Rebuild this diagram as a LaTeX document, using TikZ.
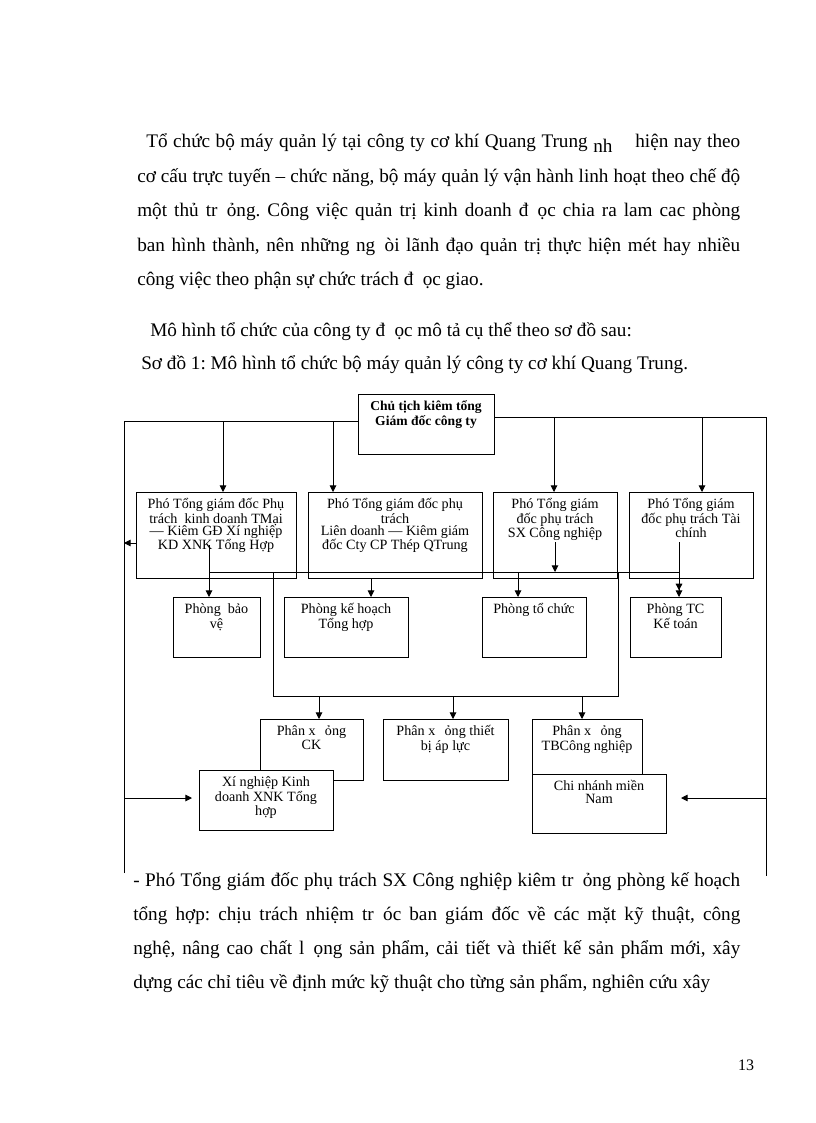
\documentclass[tikz,border=0pt]{standalone}
\usepackage{fontspec}
\setmainfont{Liberation Serif}
\usetikzlibrary{arrows.meta}
\frenchspacing
\newdimen\px \px=0.75pt
\newcommand\bxc[3]{\parbox[c][#2\px][t]{#1\px}{\centering\rule{0pt}{12.6pt}#3\par}}
\newcommand\gp{\hspace{7pt}}
\tikzset{
  bx/.style={draw, line width=0.7pt, inner sep=0pt, outer sep=0pt, anchor=north west, fill=white,
    font=\fontsize{10.6}{9.2}\selectfont},
  bxb/.style={bx, font=\bfseries\fontsize{10.2}{9.6}\selectfont},
  ln/.style={line width=0.7pt},
  arr/.style={ln, -{Triangle[length=5pt,width=5pt]}},
  arrdbl/.style={ln, -{Triangle[length=5pt,width=5pt] Triangle[length=5pt,width=5pt]}},
  txt/.style={anchor=base west, inner sep=0pt, font=\fontsize{14.4}{17}\selectfont},
}
\begin{document}
\begin{tikzpicture}[x=0.75pt,y=-0.75pt]
\fill[white] (0,0) rectangle (816,1123);
\useasboundingbox (0,0) rectangle (816,1123);

% ---------- text above ----------
\node[txt] (t1) at (146,148) {\makebox[445.5pt][s]{Tổ chức bộ máy quản lý tại công ty cơ khí Quang Trung \raisebox{-3.5pt}{nh}\hspace{13pt} hiện nay theo}};
\node[txt] (t2) at (137,182.5) {\makebox[452.25pt][s]{cơ cấu trực tuyến – chức năng, bộ máy quản lý vận hành linh hoạt theo chế độ}};
\node[txt] (t3) at (137,217) {\makebox[452.25pt][s]{một thủ tr\gp ỏng. Công việc quản trị kinh doanh đ\gp ọc chia ra lam cac phòng}};
\node[txt] (t4) at (137,251) {\makebox[452.25pt][s]{ban hình thành, nên những ng\gp òi lãnh đạo quản trị thực hiện mét hay nhiều}};
\node[txt] (t5) at (137,285.5) {công việc theo phận sự chức trách đ\gp ọc giao.};
\node[txt] (t6) at (150,336) {Mô hình tổ chức của công ty đ\gp ọc mô tả cụ thể theo sơ đồ sau:};
\node[txt] (t7) at (141,369) {Sơ đồ 1: Mô hình tổ chức bộ máy quản lý công ty cơ khí Quang Trung.};

% ---------- boxes ----------
\node[bxb] (chu) at (358,394) {\bxc{136}{60}{Chủ tịch kiêm tổng\\Giám đốc công ty}};
\node[bx] (p1) at (136,492) {\bxc{160}{86}{Phó Tổng giám đốc Phụ\\trách\ \ kinh doanh TMại\\— Kiêm GĐ Xí nghiệp\\KD XNK Tổng Hợp}};
\node[bx] (p2) at (308,492) {\bxc{174}{86}{Phó Tổng giám đốc phụ\\trách\\Liên doanh — Kiêm giám\\đốc Cty CP Thép QTrung}};
\node[bx] (p3) at (493,492) {\bxc{124}{86}{Phó Tổng giám\\đốc phụ trách\\SX Công nghiệp}};
\node[bx] (p4) at (629,492) {\bxc{124}{86}{Phó Tổng giám\\đốc phụ trách Tài\\chính}};

\node[bx] (b1) at (173,597) {\bxc{87}{60}{Phòng\ \ bảo\\vệ}};
\node[bx] (b2) at (284,597) {\bxc{124}{60}{Phòng kế hoạch\\Tổng hợp}};
\node[bx] (b3) at (482,597) {\bxc{104}{60}{Phòng tổ chức}};
\node[bx] (b4) at (630,597) {\bxc{91}{60}{Phòng TC\\Kế toán}};

\node[bx] (x1) at (260,719) {\bxc{103}{61}{Phân x\gp ỏng\\CK}};
\node[bx] (x2) at (383,719) {\bxc{125}{61}{Phân x\gp ỏng thiết\\bị áp lực}};
\node[bx] (x3) at (532,719) {\bxc{110}{55}{Phân x\gp ỏng\\TBCông nghiệp}};
\node[bx] (xn) at (199,770) {\bxc{134}{60}{Xí nghiệp Kinh\\doanh XNK Tổng\\hợp}};
\node[bx] (cn) at (532,774) {\bxc{134}{59}{Chi nhánh miền\\Nam}};

% ---------- frame and connectors ----------
\coordinate (fl0) at (124,421);
\coordinate (fl1) at (124,873);
\coordinate (fr0) at (766,417);
\coordinate (fr1) at (766,876);
\draw[ln] (fl1) -- (fl0) -- (chu.west |- fl0);
\draw[ln] (chu.east |- fr0) -- (fr0) -- (fr1);

\coordinate (a1) at (223,421);
\coordinate (a2) at (333,421);
\coordinate (a3) at (554,417);
\coordinate (a4) at (702,417);
\draw[arr] (a1) -- (a1 |- p1.north);
\draw[arr] (a2) -- (a2 |- p2.north);
\draw[arr] (a3) -- (a3 |- p3.north);
\draw[arr] (a4) -- (a4 |- p4.north);

\coordinate (la) at (136,543);
\draw[arr] (la) -- (la -| fl0);

\coordinate (ba0) at (209,572);
\coordinate (ba1) at (679,572);
\draw[ln] (ba0) -- (ba1);

\coordinate (v1) at (209,545);
\draw[arr] (v1) -- (v1 |- b1.north);
\coordinate (c2) at (371,578);
\draw[arr] (c2 |- p2.south) -- (c2 |- b2.north);
\coordinate (v3) at (555,542);
\draw[arr] (v3) -- (v3 |- ba0);
\coordinate (c3) at (518,572);
\draw[arr] (c3) -- (c3 |- b3.north);
\coordinate (v4) at (679,542);
\draw[arrdbl] (v4) -- (v4 |- b4.north);

\coordinate (bb0) at (273,696);
\coordinate (bb1) at (618,696);
\draw[ln] (bb0 |- ba0) -- (bb0) -- (bb1) -- (bb1 |- ba0);

\coordinate (d1) at (319,696);
\coordinate (d2) at (453,696);
\coordinate (d3) at (582,696);
\draw[arr] (d1) -- (d1 |- x1.north);
\draw[arr] (d2) -- (d2 |- x2.north);
\draw[arr] (d3) -- (d3 |- x3.north);

\coordinate (s1) at (124,798);
\coordinate (s2) at (766,798);
\draw[arr, shorten >=5.25pt] (s1) -- (s1 -| xn.west);
\draw[arr, shorten >=11.25pt] (s2) -- (s2 -| cn.east);

% ---------- text below ----------
\node[txt] (u1) at (133,886) {\makebox[455.25pt][s]{- Phó Tổng giám đốc phụ trách SX Công nghiệp kiêm tr\gp ỏng phòng kế hoạch}};
\node[txt] (u2) at (133,920) {\makebox[455.25pt][s]{tổng hợp: chịu trách nhiệm tr\gp óc ban giám đốc về các mặt kỹ thuật, công}};
\node[txt] (u3) at (133,954) {\makebox[455.25pt][s]{nghệ, nâng cao chất l\gp ọng sản phẩm, cải tiết và thiết kế sản phẩm mới, xây}};
\node[txt] (u4) at (133,988) {dựng các chỉ tiêu về định mức kỹ thuật cho từng sản phẩm, nghiên cứu xây};

\node[anchor=base, inner sep=0pt, font=\fontsize{12}{14}\selectfont] (pg) at (746,1070) {13};
\end{tikzpicture}
\end{document}
